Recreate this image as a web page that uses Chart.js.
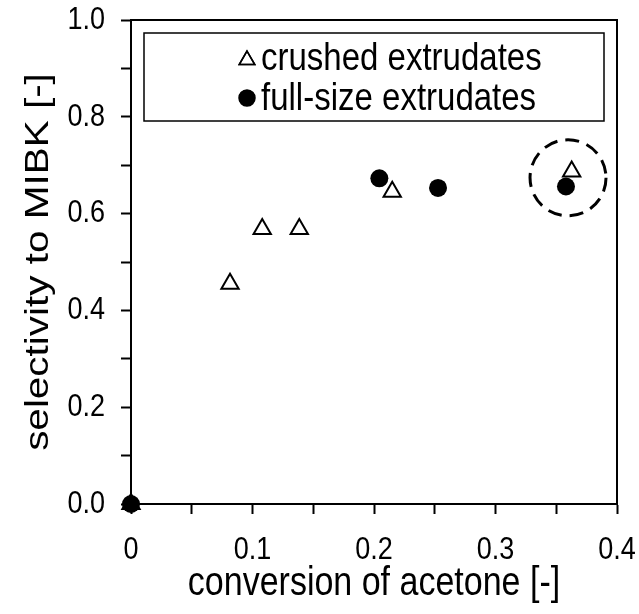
<!DOCTYPE html>
<html>
<head>
<meta charset="utf-8">
<script src="https://cdn.jsdelivr.net/npm/chart.js@4.4.1/dist/chart.umd.min.js"></script>
<style>
  html, body { margin: 0; padding: 0; background: #ffffff; }
  #wrap { width: 639px; height: 614px; position: relative; }
</style>
</head>
<body>
<div id="wrap"><canvas id="c"></canvas></div>
<script>
// ---- data ----
const crushedX = [0, 0.0815, 0.108, 0.1385, 0.215, 0.3627];
const crushedY = [0, 0.455, 0.568, 0.568, 0.645, 0.687];
const fullX = [0, 0.2044, 0.2527, 0.358];
const fullY = [0, 0.673, 0.653, 0.656];
const seriesLabels = ['crushed extrudates', 'full-size extrudates'];
const xTitle = 'conversion of acetone [-]';
const yTitle = 'selectivity to MIBK [-]';
const highlightX = [0.3597];
const highlightY = [0.674];

const FONT = '"Liberation Sans", Arial, sans-serif';
const TEXT_STRETCH = 1.19; // reference lettering is taller than wide

const canvas = document.getElementById('c');
const ctx2d = canvas.getContext('2d');
// draw all text slightly stretched vertically (in page space), around its anchor
const origFillText = ctx2d.fillText;
ctx2d.fillText = function (t, x, y, mw) {
  const m = this.getTransform();
  const px = m.a * x + m.c * y + m.e;
  const py = m.b * x + m.d * y + m.f;
  this.save();
  const M = new DOMMatrix().translate(px, py).scale(1, TEXT_STRETCH).translate(-px, -py).multiply(m);
  this.setTransform(M);
  if (mw === undefined) origFillText.call(this, t, x, y);
  else origFillText.call(this, t, x, y, mw);
  this.restore();
};

const toPts = (xs, ys) => xs.map((x, i) => ({ x: x, y: ys[i] }));

function noOverhang(s) {
  s.paddingLeft = 0; s.paddingRight = 0; s.paddingTop = 0; s.paddingBottom = 0;
}

const framePlugin = {
  id: 'frame',
  afterDatasetsDraw(chart) {
    const { ctx, chartArea: a, scales } = chart;
    ctx.save();
    ctx.strokeStyle = '#000';
    ctx.lineWidth = 2;
    ctx.beginPath();
    ctx.moveTo(a.left, a.top);
    ctx.lineTo(a.right, a.top);
    ctx.lineTo(a.right, a.bottom);
    ctx.stroke();
    // dashed highlight circle
    ctx.setLineDash([14, 8]);
    ctx.lineWidth = 3;
    highlightX.forEach((hx, i) => {
      const px = scales.x.getPixelForValue(hx);
      const py = scales.y.getPixelForValue(highlightY[i]);
      ctx.beginPath();
      ctx.arc(px, py, 38, 0, Math.PI * 2);
      ctx.stroke();
    });
    ctx.setLineDash([]);
    // legend box
    const lx = a.left + 13, ly = a.top + 13, lw = 460, lh = 88;
    ctx.lineWidth = 1.5;
    ctx.fillStyle = '#fff';
    ctx.fillRect(lx, ly, lw, lh);
    ctx.strokeRect(lx, ly, lw, lh);
    const rows = [ly + 25, ly + 65];
    ctx.font = '33px ' + FONT;
    ctx.textBaseline = 'middle';
    ctx.textAlign = 'left';
    chart.data.datasets.forEach((ds, i) => {
      const mx = lx + 103, my = rows[i];
      ctx.lineWidth = 1.5;
      ctx.strokeStyle = '#000';
      ctx.fillStyle = ds.backgroundColor;
      Chart.helpers.drawPoint(ctx, { pointStyle: ds.pointStyle, radius: i === 0 ? 9 : 8, rotation: 0, borderWidth: 1.5 }, mx, my + (i === 0 ? 2 : 0));
      if (i === 0) { ctx.stroke(); } else { ctx.fill(); }
      ctx.fillStyle = '#000';
      ctx.fillText(ds.label, mx + 14, my + 1);
    });
    ctx.restore();
  }
};

new Chart(canvas, {
  type: 'scatter',
  data: {
    datasets: [
      {
        label: seriesLabels[0],
        data: toPts(crushedX, crushedY),
        pointStyle: 'triangle',
        pointRadius: 10,
        pointHoverRadius: 10,
        backgroundColor: '#ffffff',
        borderColor: '#000000',
        pointBorderWidth: 2,
        clip: false,
        order: 2
      },
      {
        label: seriesLabels[1],
        data: toPts(fullX, fullY),
        pointStyle: 'circle',
        pointRadius: 9,
        pointHoverRadius: 9,
        backgroundColor: '#000000',
        borderColor: '#000000',
        pointBorderWidth: 0,
        clip: false,
        order: 1
      }
    ]
  },
  options: {
    responsive: true,
    maintainAspectRatio: false,
    animation: false,
    devicePixelRatio: 1,
    layout: { padding: { top: 20, right: 22, left: 0, bottom: 0 } },
    plugins: { legend: { display: false }, tooltip: { enabled: false } },
    scales: {
      x: {
        type: 'linear',
        min: 0, max: 0.4,
        afterFit(s) { s.height = 110; noOverhang(s); },
        border: { display: true, color: '#000', width: 2 },
        grid: { display: true, drawOnChartArea: false, drawTicks: true, tickLength: 10, tickColor: '#000', tickWidth: 2 },
        ticks: {
          stepSize: 0.05, autoSkip: false, maxRotation: 0, minRotation: 0, padding: 20,
          color: '#000', font: { family: FONT, size: 27 },
          callback(v) {
            const k = Math.round(v * 100);
            if (k % 10 !== 0) return '';
            return k === 0 ? '0' : (k / 100).toFixed(1);
          }
        },
        title: { display: true, text: xTitle, color: '#000', font: { family: FONT, size: 34 }, padding: { top: 0, bottom: 10 } }
      },
      y: {
        type: 'linear',
        min: 0, max: 1.0,
        afterFit(s) { s.width = 131; noOverhang(s); },
        border: { display: true, color: '#000', width: 2 },
        grid: { display: true, drawOnChartArea: false, drawTicks: true, tickLength: 10, tickColor: '#000', tickWidth: 2 },
        ticks: {
          stepSize: 0.1, autoSkip: false, padding: 16,
          color: '#000', font: { family: FONT, size: 27 },
          callback(v) {
            const k = Math.round(v * 10);
            if (k % 2 !== 0) return '';
            return (k / 10).toFixed(1);
          }
        },
        title: { display: true, text: yTitle, color: '#000', font: { family: FONT, size: 34 }, padding: { top: 18, bottom: 0 } }
      }
    }
  },
  plugins: [framePlugin]
});
</script>
</body>
</html>
